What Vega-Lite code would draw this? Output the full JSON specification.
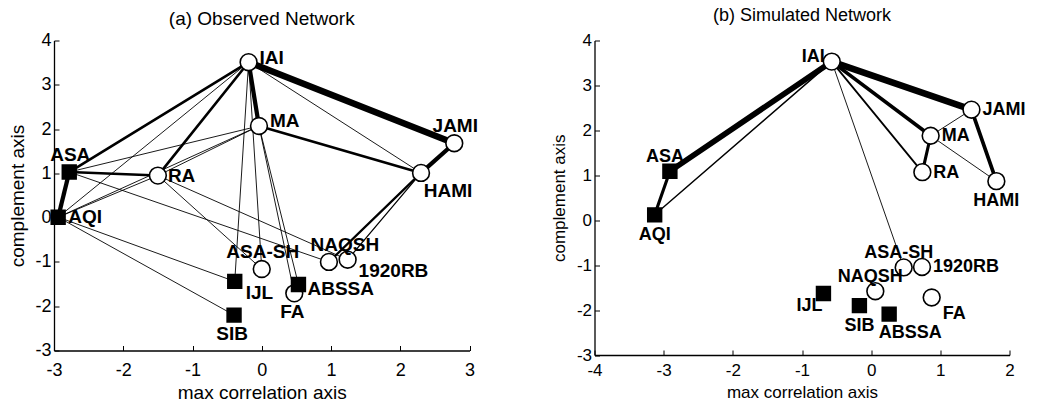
{
  "$schema": "https://vega.github.io/schema/vega-lite/v6.json",
  "background": "white",
  "padding": {"left": 8, "top": 6.5, "right": 5, "bottom": 5},
  "spacing": 72.5,
  "datasets": {
    "obsNodes": [
      {"name": "IAI", "x": -0.19, "y": 3.51, "kind": "open", "lpos": "ne"},
      {"name": "MA", "x": -0.04, "y": 2.07, "kind": "open", "lpos": "ne"},
      {"name": "JAMI", "x": 2.78, "y": 1.68, "kind": "open", "lpos": "n"},
      {"name": "HAMI", "x": 2.30, "y": 1.01, "kind": "open", "lpos": "sse"},
      {"name": "RA", "x": -1.50, "y": 0.95, "kind": "open", "lpos": "e"},
      {"name": "NAQSH", "x": 0.97, "y": -1.00, "kind": "open", "lpos": "nr"},
      {"name": "1920RB", "x": 1.24, "y": -0.95, "kind": "open", "lpos": "se"},
      {"name": "ASA-SH", "x": 0.00, "y": -1.16, "kind": "open", "lpos": "n"},
      {"name": "FA", "x": 0.47, "y": -1.71, "kind": "open", "lpos": "s"},
      {"name": "ASA", "x": -2.78, "y": 1.03, "kind": "filled", "lpos": "n"},
      {"name": "AQI", "x": -2.94, "y": 0.01, "kind": "filled", "lpos": "e"},
      {"name": "IJL", "x": -0.39, "y": -1.44, "kind": "filled", "lpos": "se"},
      {"name": "SIB", "x": -0.40, "y": -2.20, "kind": "filled", "lpos": "s"},
      {"name": "ABSSA", "x": 0.53, "y": -1.51, "kind": "filled", "lpos": "ese"}
    ],
    "obsEdges": [
      {"s": "IAI", "t": "JAMI", "w": 6},
      {"s": "IAI", "t": "MA", "w": 4},
      {"s": "IAI", "t": "ASA", "w": 2.5},
      {"s": "IAI", "t": "RA", "w": 2.5},
      {"s": "IAI", "t": "AQI", "w": 1},
      {"s": "IAI", "t": "IJL", "w": 1},
      {"s": "IAI", "t": "HAMI", "w": 1},
      {"s": "IAI", "t": "ASA-SH", "w": 1},
      {"s": "MA", "t": "HAMI", "w": 2.5},
      {"s": "MA", "t": "ASA", "w": 1},
      {"s": "MA", "t": "AQI", "w": 1},
      {"s": "MA", "t": "RA", "w": 1},
      {"s": "MA", "t": "ABSSA", "w": 1},
      {"s": "MA", "t": "FA", "w": 1},
      {"s": "JAMI", "t": "HAMI", "w": 4},
      {"s": "HAMI", "t": "NAQSH", "w": 2.2},
      {"s": "HAMI", "t": "1920RB", "w": 1.3},
      {"s": "ASA", "t": "RA", "w": 2.5},
      {"s": "ASA", "t": "AQI", "w": 4},
      {"s": "ASA", "t": "NAQSH", "w": 1},
      {"s": "AQI", "t": "RA", "w": 1},
      {"s": "AQI", "t": "IJL", "w": 1},
      {"s": "AQI", "t": "SIB", "w": 1},
      {"s": "RA", "t": "ASA-SH", "w": 1},
      {"s": "RA", "t": "1920RB", "w": 1}
    ],
    "simNodes": [
      {"name": "IAI", "x": -0.57, "y": 3.53, "kind": "open", "lpos": "w"},
      {"name": "JAMI", "x": 1.45, "y": 2.46, "kind": "open", "lpos": "e"},
      {"name": "MA", "x": 0.86, "y": 1.88, "kind": "open", "lpos": "e"},
      {"name": "RA", "x": 0.74, "y": 1.07, "kind": "open", "lpos": "e"},
      {"name": "HAMI", "x": 1.81, "y": 0.87, "kind": "open", "lpos": "s"},
      {"name": "ASA-SH", "x": 0.47, "y": -1.05, "kind": "open", "lpos": "n"},
      {"name": "1920RB", "x": 0.735, "y": -1.04, "kind": "open", "lpos": "e"},
      {"name": "NAQSH", "x": 0.06, "y": -1.58, "kind": "open", "lpos": "n"},
      {"name": "FA", "x": 0.875, "y": -1.72, "kind": "open", "lpos": "se"},
      {"name": "ASA", "x": -2.91, "y": 1.09, "kind": "filled", "lpos": "n"},
      {"name": "AQI", "x": -3.13, "y": 0.12, "kind": "filled", "lpos": "s"},
      {"name": "IJL", "x": -0.69, "y": -1.63, "kind": "filled", "lpos": "sw"},
      {"name": "SIB", "x": -0.17, "y": -1.90, "kind": "filled", "lpos": "s"},
      {"name": "ABSSA", "x": 0.26, "y": -2.09, "kind": "filled", "lpos": "sse"}
    ],
    "simEdges": [
      {"s": "IAI", "t": "JAMI", "w": 6},
      {"s": "IAI", "t": "ASA", "w": 5.3},
      {"s": "IAI", "t": "MA", "w": 3.5},
      {"s": "IAI", "t": "RA", "w": 1.8},
      {"s": "IAI", "t": "AQI", "w": 1.5},
      {"s": "IAI", "t": "ASA-SH", "w": 1},
      {"s": "ASA", "t": "AQI", "w": 3},
      {"s": "JAMI", "t": "HAMI", "w": 3.5},
      {"s": "MA", "t": "RA", "w": 3},
      {"s": "MA", "t": "JAMI", "w": 1},
      {"s": "MA", "t": "HAMI", "w": 1}
    ]
  },
  "config": {
    "view": {"stroke": null},
    "font": "Liberation Sans",
    "axis": {
      "grid": false,
      "domainColor": "black",
      "domainWidth": 1.3,
      "tickColor": "black",
      "tickWidth": 1,
      "tickSize": -5,
      "labelColor": "black",
      "titleColor": "black",
      "labelFont": "Liberation Sans",
      "titleFont": "Liberation Sans",
      "titleFontWeight": "normal",
      "labelFlush": false,
      "labelOverlap": false,
      "labelExpr": "replace(datum.label, '\u2212', '-')"
    },
    "title": {"font": "Liberation Sans", "fontWeight": "normal", "color": "black", "anchor": "middle"}
  },
  "hconcat": [
    {
      "width": 415.5,
      "height": 310,
      "title": {"text": "(a) Observed Network", "fontSize": 19, "offset": 3},
      "data": {"name": "obsNodes"},
      "encoding": {
        "x": {"field": "x", "type": "quantitative",
              "scale": {"domain": [-3, 3], "nice": false, "zero": false},
              "axis": {"values": [-3, -2, -1, 0, 1, 2, 3], "title": "max correlation axis", "labelFontSize": 18, "titleFontSize": 19, "labelPadding": 15.5, "titlePadding": 4}},
        "y": {"field": "y", "type": "quantitative",
              "scale": {"domain": [-3, 4], "nice": false, "zero": false},
              "axis": {"values": [-3, -2, -1, 0, 1, 2, 3, 4], "title": "complement axis", "labelFontSize": 18, "titleFontSize": 19, "labelPadding": 8, "titlePadding": 7}}
      },
      "layer": [
        {
          "data": {"name": "obsEdges"},
          "transform": [
            {"lookup": "s", "from": {"data": {"name": "obsNodes"}, "key": "name", "fields": ["x", "y"]}, "as": ["x", "y"]},
            {"lookup": "t", "from": {"data": {"name": "obsNodes"}, "key": "name", "fields": ["x", "y"]}, "as": ["xe", "ye"]}
          ],
          "mark": {"type": "rule", "color": "black", "strokeCap": "round"},
          "encoding": {
            "x2": {"field": "xe"},
            "y2": {"field": "ye"},
            "strokeWidth": {"field": "w", "type": "quantitative", "scale": {"domain": [1, 6], "range": [0.9, 6.5]}, "legend": null}
          }
        },
        {
          "mark": {"type": "point", "filled": true, "stroke": "black", "strokeWidth": 1.6, "opacity": 1},
          "encoding": {
            "shape": {"field": "kind", "type": "nominal", "scale": {"domain": ["open", "filled"], "range": ["circle", "square"]}, "legend": null},
            "fill": {"field": "kind", "type": "nominal", "scale": {"domain": ["open", "filled"], "range": ["white", "black"]}, "legend": null},
            "size": {"field": "kind", "type": "nominal", "scale": {"domain": ["open", "filled"], "range": [282, 190]}, "legend": null}
          }
        },
        {"transform": [{"filter": {"field": "lpos", "equal": "ne"}}], "mark": {"type": "text", "align": "left", "baseline": "alphabetic", "dx": 11, "dy": 1.5, "fontSize": 19, "fontWeight": "bold", "color": "black"}, "encoding": {"text": {"field": "name"}}},
        {"transform": [{"filter": {"field": "lpos", "equal": "n"}}], "mark": {"type": "text", "align": "center", "baseline": "alphabetic", "dx": 1, "dy": -11, "fontSize": 19, "fontWeight": "bold", "color": "black"}, "encoding": {"text": {"field": "name"}}},
        {"transform": [{"filter": {"field": "lpos", "equal": "nr"}}], "mark": {"type": "text", "align": "center", "baseline": "alphabetic", "dx": 16, "dy": -11, "fontSize": 19, "fontWeight": "bold", "color": "black"}, "encoding": {"text": {"field": "name"}}},
        {"transform": [{"filter": {"field": "lpos", "equal": "e"}}], "mark": {"type": "text", "align": "left", "baseline": "middle", "dx": 10, "dy": 0, "fontSize": 19, "fontWeight": "bold", "color": "black"}, "encoding": {"text": {"field": "name"}}},
        {"transform": [{"filter": {"field": "lpos", "equal": "se"}}], "mark": {"type": "text", "align": "left", "baseline": "alphabetic", "dx": 11, "dy": 17.5, "fontSize": 19, "fontWeight": "bold", "color": "black"}, "encoding": {"text": {"field": "name"}}},
        {"transform": [{"filter": {"field": "lpos", "equal": "ese"}}], "mark": {"type": "text", "align": "left", "baseline": "alphabetic", "dx": 9, "dy": 10, "fontSize": 19, "fontWeight": "bold", "color": "black"}, "encoding": {"text": {"field": "name"}}},
        {"transform": [{"filter": {"field": "lpos", "equal": "s"}}], "mark": {"type": "text", "align": "center", "baseline": "alphabetic", "dx": -2, "dy": 25, "fontSize": 19, "fontWeight": "bold", "color": "black"}, "encoding": {"text": {"field": "name"}}},
        {"transform": [{"filter": {"field": "lpos", "equal": "sse"}}], "mark": {"type": "text", "align": "center", "baseline": "alphabetic", "dx": 27, "dy": 24, "fontSize": 19, "fontWeight": "bold", "color": "black"}, "encoding": {"text": {"field": "name"}}}
      ]
    },
    {
      "width": 415,
      "height": 314.5,
      "title": {"text": "(b) Simulated Network", "fontSize": 18, "offset": 6.5},
      "data": {"name": "simNodes"},
      "encoding": {
        "x": {"field": "x", "type": "quantitative",
              "scale": {"domain": [-4, 2], "nice": false, "zero": false},
              "axis": {"values": [-4, -3, -2, -1, 0, 1, 2], "title": "max correlation axis", "labelFontSize": 17, "titleFontSize": 17, "labelPadding": 12, "titlePadding": 6}},
        "y": {"field": "y", "type": "quantitative",
              "scale": {"domain": [-3, 4], "nice": false, "zero": false},
              "axis": {"values": [-3, -2, -1, 0, 1, 2, 3, 4], "title": "complement axis", "labelFontSize": 17, "titleFontSize": 17, "labelPadding": 8, "titlePadding": 7.4}}
      },
      "layer": [
        {
          "data": {"name": "simEdges"},
          "transform": [
            {"lookup": "s", "from": {"data": {"name": "simNodes"}, "key": "name", "fields": ["x", "y"]}, "as": ["x", "y"]},
            {"lookup": "t", "from": {"data": {"name": "simNodes"}, "key": "name", "fields": ["x", "y"]}, "as": ["xe", "ye"]}
          ],
          "mark": {"type": "rule", "color": "black", "strokeCap": "round"},
          "encoding": {
            "x2": {"field": "xe"},
            "y2": {"field": "ye"},
            "strokeWidth": {"field": "w", "type": "quantitative", "scale": {"domain": [1, 6], "range": [0.9, 6.5]}, "legend": null}
          }
        },
        {
          "mark": {"type": "point", "filled": true, "stroke": "black", "strokeWidth": 1.6, "opacity": 1},
          "encoding": {
            "shape": {"field": "kind", "type": "nominal", "scale": {"domain": ["open", "filled"], "range": ["circle", "square"]}, "legend": null},
            "fill": {"field": "kind", "type": "nominal", "scale": {"domain": ["open", "filled"], "range": ["white", "black"]}, "legend": null},
            "size": {"field": "kind", "type": "nominal", "scale": {"domain": ["open", "filled"], "range": [282, 190]}, "legend": null}
          }
        },
        {"transform": [{"filter": {"field": "lpos", "equal": "w"}}], "mark": {"type": "text", "align": "right", "baseline": "alphabetic", "dx": -7, "dy": 0, "fontSize": 18, "fontWeight": "bold", "color": "black"}, "encoding": {"text": {"field": "name"}}},
        {"transform": [{"filter": {"field": "lpos", "equal": "e"}}], "mark": {"type": "text", "align": "left", "baseline": "middle", "dx": 11, "dy": 0.5, "fontSize": 18, "fontWeight": "bold", "color": "black"}, "encoding": {"text": {"field": "name"}}},
        {"transform": [{"filter": {"field": "lpos", "equal": "s"}}], "mark": {"type": "text", "align": "center", "baseline": "alphabetic", "dx": 0, "dy": 25, "fontSize": 18, "fontWeight": "bold", "color": "black"}, "encoding": {"text": {"field": "name"}}},
        {"transform": [{"filter": {"field": "lpos", "equal": "n"}}], "mark": {"type": "text", "align": "center", "baseline": "alphabetic", "dx": -5, "dy": -9, "fontSize": 18, "fontWeight": "bold", "color": "black"}, "encoding": {"text": {"field": "name"}}},
        {"transform": [{"filter": {"field": "lpos", "equal": "se"}}], "mark": {"type": "text", "align": "left", "baseline": "alphabetic", "dx": 11, "dy": 22, "fontSize": 18, "fontWeight": "bold", "color": "black"}, "encoding": {"text": {"field": "name"}}},
        {"transform": [{"filter": {"field": "lpos", "equal": "sw"}}], "mark": {"type": "text", "align": "right", "baseline": "alphabetic", "dx": -1, "dy": 18, "fontSize": 18, "fontWeight": "bold", "color": "black"}, "encoding": {"text": {"field": "name"}}},
        {"transform": [{"filter": {"field": "lpos", "equal": "sse"}}], "mark": {"type": "text", "align": "center", "baseline": "alphabetic", "dx": 21, "dy": 24, "fontSize": 18, "fontWeight": "bold", "color": "black"}, "encoding": {"text": {"field": "name"}}}
      ]
    }
  ]
}
